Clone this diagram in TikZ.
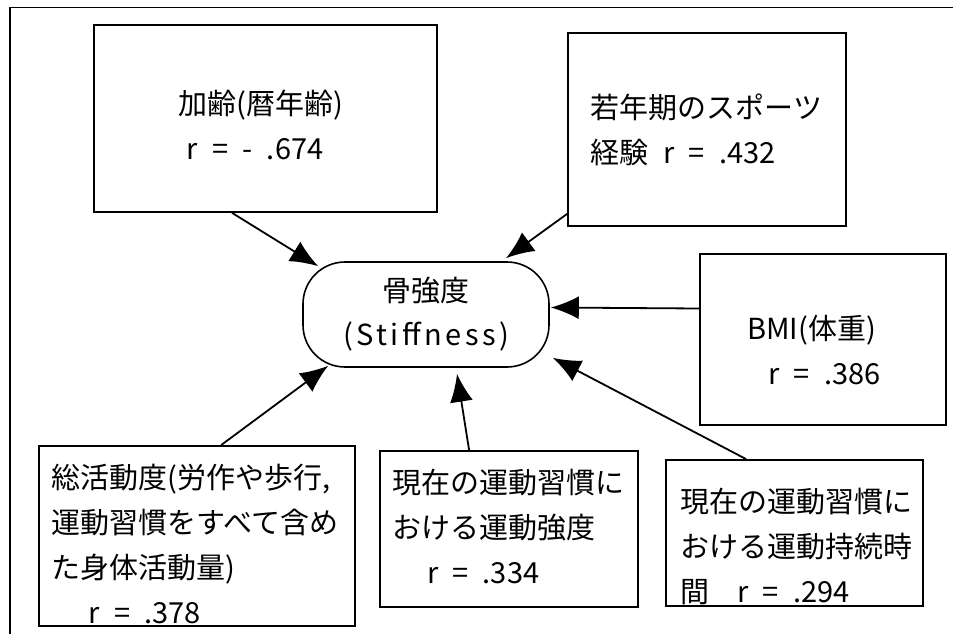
\documentclass[tikz,border=0pt]{standalone}
\usepackage{fontspec}
\setmainfont{Noto Sans CJK JP}[WordSpace=2.2]
\newfontfamily\spaced{Noto Sans CJK JP}[LetterSpace=12]
\usetikzlibrary{arrows.meta,calc}
\begin{document}
\begin{tikzpicture}[x=1pt,y=-1pt,
  box/.style={draw, line width=1.8pt, rectangle, inner sep=0pt},
  hub/.style={draw, line width=1.6pt, rectangle, rounded corners=42pt, inner sep=0pt, align=center,
    font=\fontsize{29pt}{44pt}\selectfont},
  txt/.style={align=left, inner sep=0pt, font=\fontsize{29pt}{45pt}\selectfont},
  arr/.style={line width=1.8pt, -{Latex[length=28pt,width=23pt]}},
  frame/.style={line width=1.4pt}
]
\useasboundingbox (0,0) rectangle (953,634);
\draw[frame] (10,634) -- (10,7.5) -- (953,7.5);

% boxes
\node[box, minimum width=343pt, minimum height=187pt] (b1) at (265.5,118.5) {};
\node[box, minimum width=278pt, minimum height=193pt] (b2) at (707,129.5) {};
\node[box, minimum width=246pt, minimum height=171pt] (b3) at (823,339.5) {};
\node[box, minimum width=316pt, minimum height=180pt] (b4) at (197,536) {};
\node[box, minimum width=258pt, minimum height=156pt] (b5) at (509,529) {};
\node[box, minimum width=257pt, minimum height=146pt] (b6) at (794.5,533) {};
\node[hub, minimum width=246pt, minimum height=105pt] (c) at (426,314.5) {骨強度\\{\spaced (Stiffness)}};

% texts
\node[txt] (t1) at (261,124.5) {加齢(暦年齢)\\\hspace*{8pt}r = - .674};
\node[txt] (t2) at (706.5,129.5) {若年期のスポーツ\\経験 r = .432};
\node[txt] (t3) at (814,350) {BMI(体重)\\\hspace*{21pt}r = .386};
\node[txt] (t4) at (195,544) {総活動度(労作や歩行,\\運動習慣をすべて含め\\た身体活動量)\\\hspace*{37pt}r = .378};
\node[txt] (t5) at (508,527) {現在の運動習慣に\\おける運動強度\\\hspace*{35pt}r = .334};
\node[txt] (t6) at (796,546) {現在の運動習慣に\\おける運動持続時\\間 \hspace*{14pt}r = .294};

% connectors
\draw[arr] ($(b1.south west)+(139,0)$) -- ($(c.north west)+(16,5)$);
\draw[arr] ($(b2.south west)+(0,-13)$) -- ($(c.north)+(80,-3)$);
\draw[arr] ($(b3.west)+(0,-31)$) -- ($(c.east)+(1,-7)$);
\draw[arr] ($(b4.north west)+(183,0)$) -- ($(c.south west)+(26,-2)$);
\draw[arr] ($(b5.north west)+(90,0)$) -- ($(c.south)+(31,6)$);
\draw[arr] ($(b6.north west)+(81,0)$) -- ($(c.south east)+(3,-10)$);
\end{tikzpicture}
\end{document}
